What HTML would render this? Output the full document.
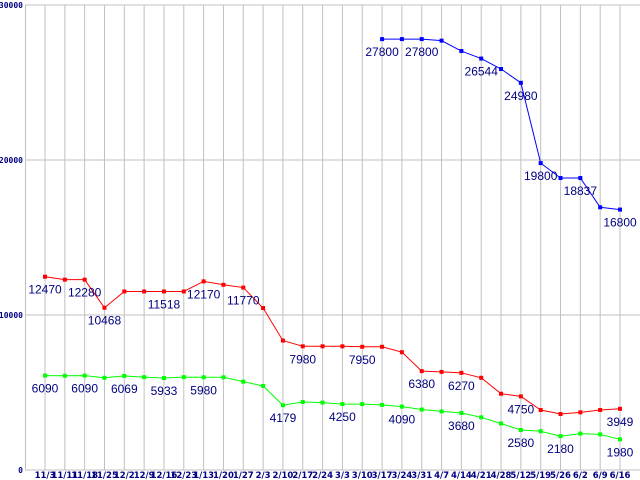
<!DOCTYPE html>
<html><head><meta charset="utf-8"><style>
html,body{margin:0;padding:0;background:#fff;width:640px;height:480px;overflow:hidden}
svg{display:block}
</style></head><body>
<svg id="chart" width="640" height="480" xmlns="http://www.w3.org/2000/svg"></svg>
<script>
const categories=["11/3","11/11","11/18","11/25","12/2","12/9","12/16","12/23","1/13","1/20","1/27","2/3","2/10","2/17","2/24","3/3","3/10","3/17","3/24","3/31","4/7","4/14","4/21","4/28","5/12","5/19","5/26","6/2","6/9","6/16"];
const redValues=[12470,12280,12280,10468,11518,11518,11518,11518,12170,11950,11770,10450,8350,7980,7980,7980,7950,7950,7600,6380,6330,6270,5950,4920,4750,3870,3610,3720,3870,3949];
const greenValues=[6090,6080,6090,5950,6069,5990,5933,5990,5980,5980,5700,5420,4179,4390,4350,4250,4250,4200,4090,3900,3780,3680,3400,3000,2580,2500,2180,2350,2300,1980];
const blueValues=[null,null,null,null,null,null,null,null,null,null,null,null,null,null,null,null,null,27800,27800,27800,27700,27030,26544,25870,24980,19800,18837,18837,16950,16800];
const redLabels=[0,2,3,6,8,10,13,16,19,21,24,29];
const greenLabels=[0,2,4,6,8,12,15,18,21,24,26,29];
const blueLabels=[17,19,22,24,25,27,29];
const yTicks=[0,10000,20000,30000];

const svg=document.getElementById('chart');
const NS='http://www.w3.org/2000/svg';
const x0=45,x1=620,yBase=470,yTop=5,yMax=30000;
function xs(i){return x0+i*(x1-x0)/(categories.length-1);}
function ys(v){return yBase-v*(yBase-yTop)/yMax;}
function mk(tag,attrs,parent){const e=document.createElementNS(NS,tag);for(const k in attrs)e.setAttribute(k,attrs[k]);(parent||svg).appendChild(e);return e;}

const grid=mk('g',{});


categories.forEach((c,i)=>{
  const l=mk('line',{x1:xs(i),x2:xs(i),y1:yTop,y2:yBase,stroke:'#c0c0c0','stroke-width':1},grid);
  
  
});
yTicks.forEach(t=>{
  const l=mk('line',{x1:25,x2:640,y1:ys(t),y2:ys(t),stroke:'#c0c0c0','stroke-width':1},grid);
  
  
  const tx=mk('text',{x:23,y:ys(t)+3,'text-anchor':'end','font-family':'DejaVu Sans Mono, Liberation Mono, monospace','font-size':'8','font-weight':'bold',fill:'#000080'});
  tx.textContent=String(t);
  
  
});
const ax=mk('line',{x1:25.5,x2:25.5,y1:yTop,y2:yBase,stroke:'#c0c0c0'});


categories.forEach((c,i)=>{
  const t=mk('text',{x:xs(i),y:478,'text-anchor':'middle','font-family':'DejaVu Sans, Liberation Sans, sans-serif','font-size':'8.5','font-weight':'bold',fill:'#000080'});
  t.textContent=c;
  
  
});

function series(vals,color,labels,name){
  const g=mk('g',{});
  
  
  let d='';
  vals.forEach((v,i)=>{if(v==null)return;d+=(d?'L':'M')+xs(i)+' '+ys(v);});
  const p=mk('path',{d:d,fill:'none',stroke:color,'stroke-width':1},g);
  
  
  vals.forEach((v,i)=>{
    if(v==null)return;
    const r=mk('rect',{x:xs(i)-2,y:ys(v)-2,width:4,height:4,fill:color},g);
    
    
  });
  labels.forEach(i=>{
    const t=mk('text',{x:xs(i),y:ys(vals[i])+17,'text-anchor':'middle','font-family':'Liberation Sans, sans-serif','font-size':'12',fill:'#000080'},g);
    t.textContent=String(vals[i]);
    
    
  });
}
series(greenValues,'#00ff00',greenLabels,'green-series');
series(redValues,'#ff0000',redLabels,'red-series');
series(blueValues,'#0000ff',blueLabels,'blue-series');
</script>
</body></html>
